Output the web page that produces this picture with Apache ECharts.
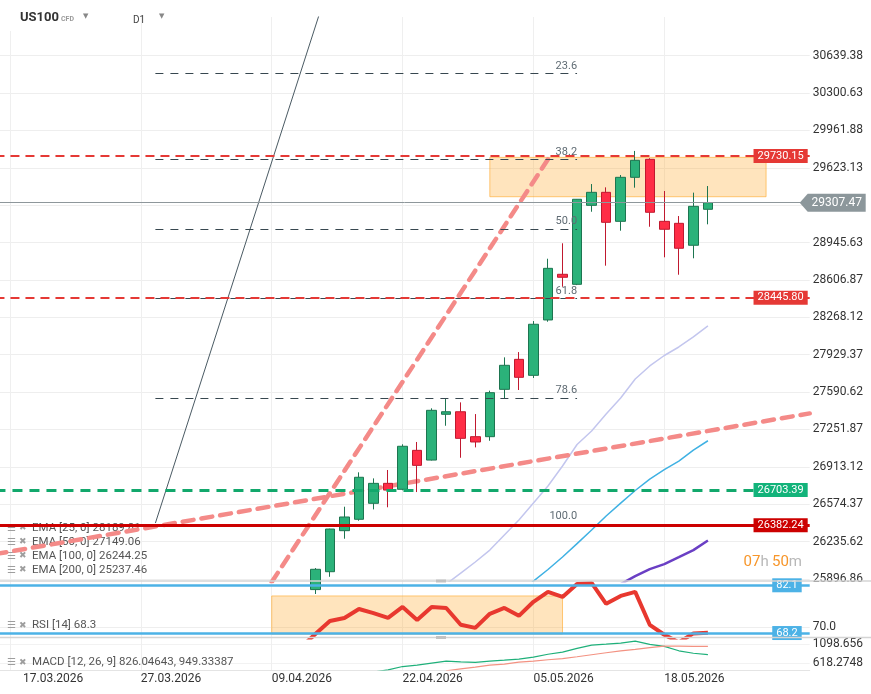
<!DOCTYPE html>
<html><head><meta charset="utf-8">
<script src="https://cdn.jsdelivr.net/npm/echarts@6/dist/echarts.min.js"></script>
<style>html,body{margin:0;padding:0;background:#fff}#c{width:871px;height:694px}</style>
</head><body><div id="c"></div><script>
// ---------- DATA ----------
const dates = ['16.03.2026','17.03.2026','18.03.2026','19.03.2026','20.03.2026','22.03.2026','23.03.2026','24.03.2026','25.03.2026','26.03.2026',
 '27.03.2026','30.03.2026','31.03.2026','01.04.2026','02.04.2026','03.04.2026','06.04.2026','07.04.2026','08.04.2026','09.04.2026',
 '10.04.2026','13.04.2026','14.04.2026','15.04.2026','16.04.2026','17.04.2026','20.04.2026','21.04.2026','22.04.2026','23.04.2026',
 '24.04.2026','27.04.2026','28.04.2026','29.04.2026','30.04.2026','01.05.2026','04.05.2026','05.05.2026','06.05.2026','07.05.2026',
 '08.05.2026','11.05.2026','12.05.2026','13.05.2026','14.05.2026','15.05.2026','18.05.2026','19.05.2026','20.05.2026','21.05.2026',
 '22.05.2026','25.05.2026','26.05.2026','27.05.2026','28.05.2026','29.05.2026','01.06.2026'];
const xLabelDates = ['17.03.2026','27.03.2026','09.04.2026','22.04.2026','05.05.2026','18.05.2026'];
const priceTicks = ['25896.86','26235.62','26574.37','26913.12','27251.87','27590.62','27929.37','28268.12','28606.87','28945.63','29284.38','29623.13','29961.88','30300.63','30639.38'];
const rsiTicks = ['70.0'];
const macdTicks = ['618.2748','1098.656'];
const currentPrice = 29307.47;

const candleStart = '14.04.2026';
const candles = [ // open, close, low, high
 [25800,25984,25760,25995],[25962,26349,25916,26352],[26334,26458,26261,26551],[26437,26818,26424,26863],
 [26582,26763,26527,26808],[26763,26702,26546,26884],[26709,27099,26700,27117],[27062,26926,26684,27138],
 [26974,27425,26970,27443],[27389,27412,27285,27527],[27412,27171,26995,27497],[27186,27138,27089,27391],
 [27186,27585,27149,27603],[27615,27833,27534,27905],[27887,27724,27609,27953],[27742,28205,27718,28234],
 [28244,28712,28228,28799],[28658,28631,28545,28939],[28567,29338,28560,29340],[29283,29401,29225,29476],
 [29401,29129,28736,29446],[29138,29537,29053,29558],[29537,29691,29443,29776],[29700,29220,29089,29710],
 [29138,29066,28812,29413],[29120,28894,28654,29186],[28921,29274,28803,29398],[29247,29307.47,29111,29458]];

const ema25Start = '27.04.2026';
const ema25 = [25850,25950,26050,26158,26294,26430,26585,26739,26920,27115,27237,27391,27537,27709,27827,27922,27999,28090,28189.81];
const ema50Start = '04.05.2026';
const ema50 = [25760,25877,25982,26095,26217,26340,26467,26584,26698,26802,26888,26965,27065,27149.06];
const ema100Start = '13.05.2026';
const ema100 = [25850,25922,25986,26031,26094,26158,26244.25];
const emaNames = ['EMA [25, 0]','EMA [50, 0]','EMA [100, 0]','EMA [200, 0]'];
const emaLast = [28189.81, 27149.06, 26244.25, 25237.46];

const rsiStart = '13.04.2026';
const rsi = [64.0,67.9,71.7,72.6,75.2,74.0,72.6,75.8,72.0,75.8,75.5,70.6,69.7,73.8,75.5,73.2,77.3,80.2,78.7,82.5,82.8,76.7,79.0,80.2,70.6,67.7,65.5,68.1,68.3];
const rsiLevels = [82.1, 68.2];

const macdStart = '20.04.2026';
const macd = [400,455,539,576,626,676,658,646,676,700,725,775,850,905,999,1079,1104,1131,1181,1099,1049,937,875,842];
const signalStart = '27.04.2026';
const signal = [430,481,526,576,601,651,676,710,738,787,837,887,937,974,1016,1056,1054,1049,1049];
const macdLegend = ['826.04643','949.33387'];

const levelValues = [29730.15, 28445.80, 26703.39, 26382.24];
const fibLevels = ['23.6','38.2','50.0','61.8','78.6','100.0'];
const fibPrices = [30480, 29699, 29068, 28437, 27538, 26394];
const fibRange = ['30.03.2026','08.05.2026'];
const fibExtLevels = ['161.8','100.0'];
const fibExtPrices = [28445.80, 26382.24];
const fibExtRange = ['08.05.2026','21.05.2026'];
const swingLine = [['30.03.2026',26403],['16.04.2026',31722]];
const trendShallow = [['16.03.2026',26122],['01.06.2026',27397]];
const trendSteep = [['09.04.2026',25868],['06.05.2026',29700]];
const zoneMain = [['30.04.2026',29718],['27.05.2026',29361]];
const zoneRsi = [['09.04.2026',79.0],['07.05.2026',67.9]];

// ---------- HELPERS ----------
const pairs = (start, vals) => { const s = dates.indexOf(start); return vals.map((v,k)=>[dates[s+k], v]); };
const labelIdx = xLabelDates.map(d => dates.indexOf(d));
const showX = (i) => labelIdx.indexOf(i) >= 0;
const FONT = 'Roboto';

const gridsLayout = [
  {left:-4.54, width:814.24, top:17, height:564, containLabel:false, outerBoundsMode:'none'},
  {left:-4.54, width:814.24, top:581, height:56.5, containLabel:false, outerBoundsMode:'none'},
  {left:-4.54, width:814.24, top:637.5, height:32.5, containLabel:false, outerBoundsMode:'none'}
];
const xAxes = [0,1,2].map(g => ({
  type:'category', gridIndex:g, data:dates, boundaryGap:false,
  axisLine:{show:g===2, lineStyle:{color:'#e4e4e4'}}, axisTick:{show:false},
  axisLabel:{show:g===2, interval:(i)=>showX(i), align:'left',
    formatter:(v)=> v===xLabelDates[0] ? '{f|'+v+'}' : v,
    rich:{f:{padding:[0,0,0,13], color:'#333', fontSize:12, fontFamily:FONT}},
    margin:3, color:'#333', fontSize:12, fontFamily:FONT},
  splitLine:{show:true, interval:(i)=>showX(i), lineStyle:{color:'#efefef', width:1}}
}));

const priceVals = priceTicks.map(Number);
const yAxes = [
  {type:'value', gridIndex:0, position:'right', min:25877.8, max:30990.2,
   axisLine:{show:false}, axisTick:{show:false, customValues:priceVals},
   axisLabel:{customValues:priceVals, margin:3, color:'#333', fontSize:12, fontFamily:FONT,
     formatter:(v)=>{ if (Math.abs(v-currentPrice)<60) return ''; const t = priceTicks.find(s=>Math.abs(parseFloat(s)-v)<0.01); return t||''; }},
   splitLine:{show:true, lineStyle:{color:'#eeeeee'}}},
  {type:'value', gridIndex:1, position:'right', min:66.9, max:83.35,
   axisLine:{show:false}, axisTick:{show:false, customValues:rsiTicks.map(Number)},
   axisLabel:{customValues:rsiTicks.map(Number), margin:3, color:'#333', fontSize:12, fontFamily:FONT,
     formatter:(v)=>rsiTicks.find(s=>Math.abs(parseFloat(s)-v)<0.01)||''},
   splitLine:{show:true, lineStyle:{color:'#eeeeee'}}},
  {type:'value', gridIndex:2, position:'right', min:451.5, max:1272.9,
   axisLine:{show:false}, axisTick:{show:false, customValues:macdTicks.map(Number)},
   axisLabel:{customValues:macdTicks.map(Number), margin:3, color:'#333', fontSize:12, fontFamily:FONT,
     formatter:(v)=>macdTicks.find(s=>Math.abs(parseFloat(s)-v)<0.01)||''},
   splitLine:{show:true, lineStyle:{color:'#f2f2f2'}}}
];

const boxLabel = (txt, bg, dist) => ({show:true, position:'insideEnd', distance:dist, formatter:txt, color:'#fff',
  backgroundColor:bg, padding:[2,4,1,4], fontSize:11, fontFamily:FONT});

const levelStyles = [
  {color:'#e53935', width:2, type:[9,6]},
  {color:'#e53935', width:2, type:[9,6]},
  {color:'#12a86c', width:3, type:[10,7]},
  {color:'#cc0000', width:3, type:'solid'}
];
const levelBg = ['#e53935','#e53935','#12b37a','#cc0000'];

const series = [
  {type:'line', xAxisIndex:0, yAxisIndex:0, data:pairs(ema25Start, ema25), symbol:'none', z:2,
   lineStyle:{color:'#c3c6ee', width:1.5}},
  {type:'line', xAxisIndex:0, yAxisIndex:0, data:pairs(ema50Start, ema50), symbol:'none', z:2,
   lineStyle:{color:'#3fb1e3', width:1.5}},
  {type:'line', xAxisIndex:0, yAxisIndex:0, data:pairs(ema100Start, ema100), symbol:'none', z:2,
   lineStyle:{color:'#6a3fc4', width:2.5}},
  {type:'line', xAxisIndex:0, yAxisIndex:0, data:swingLine, symbol:'none', z:2,
   lineStyle:{color:'#4a5a63', width:1}},
  {type:'line', xAxisIndex:0, yAxisIndex:0, data:trendShallow, symbol:'none', z:2,
   lineStyle:{color:'#f48a88', width:4.5, type:[11,8], cap:'round'}},
  {type:'line', xAxisIndex:0, yAxisIndex:0, data:trendSteep, symbol:'none', z:2,
   lineStyle:{color:'#f48a88', width:4.5, type:[11,8], cap:'round'}},
  {type:'line', xAxisIndex:0, yAxisIndex:0, data:[], z:2, silent:true,
   markLine:{symbol:['none','none'], animation:false, silent:true,
     lineStyle:{color:'#37474f', width:1, type:[8,7]},
     label:{show:true, position:'insideEndTop', distance:[0,2], color:'#5f6b73', fontSize:11, fontFamily:FONT},
     data: fibLevels.map((lv,i)=>[{coord:[fibRange[0], fibPrices[i]], label:{formatter:lv}}, {coord:[fibRange[1], fibPrices[i]]}])
       .concat(fibExtLevels.map((lv,i)=>[{coord:[fibExtRange[0], fibExtPrices[i]], lineStyle:{opacity:0}, label:{formatter:lv}}, {coord:[fibExtRange[1], fibExtPrices[i]]}]))
       .concat([{yAxis:currentPrice, lineStyle:{color:'#8e979b', width:1, type:'solid'}, label:{show:false}}])
   }},
  {type:'candlestick', xAxisIndex:0, yAxisIndex:0, z:3, barWidth:10,
   data: pairs(candleStart, candles).map(p=>[p[0]].concat(p[1])),
   encode:{x:0, y:[1,2,3,4]},
   itemStyle:{color:'#2bb27a', color0:'#ff2d46', borderColor:'#1d7550', borderColor0:'#c0192f', borderWidth:1}},
  {type:'line', xAxisIndex:0, yAxisIndex:0, data:[], z:4, silent:true,
   markArea:{silent:true, animation:false,
     itemStyle:{color:'rgba(255,167,38,0.3)', borderColor:'rgba(255,167,38,0.6)', borderWidth:1},
     data:[[{coord:zoneMain[0]},{coord:zoneMain[1]}]]}},
  {type:'line', xAxisIndex:0, yAxisIndex:0, data:[], z:5, silent:true,
   markLine:{symbol:['none','none'], animation:false, silent:true,
     data: levelValues.map((v,i)=>({yAxis:v, lineStyle:levelStyles[i], label:boxLabel(v.toFixed(2), levelBg[i], 2)}))},
   markPoint:{symbol:'path://M0,9L8,0L66,0L66,18L8,18Z', symbolSize:[66,18], symbolKeepAspect:false,
     symbolOffset:[23,0], silent:true, animation:false, itemStyle:{color:'#8c979b'},
     label:{show:true, position:'inside', offset:[4,0], color:'#fff', fontSize:12, fontFamily:FONT, formatter:currentPrice.toFixed(2)},
     data:[{coord:[dates[dates.length-1], currentPrice]}]}},
  {type:'line', xAxisIndex:1, yAxisIndex:1, data:pairs(rsiStart, rsi), symbol:'none', z:2,
   lineStyle:{color:'#e8382f', width:4}},
  {type:'line', xAxisIndex:1, yAxisIndex:1, data:[], z:3, silent:true,
   markLine:{symbol:['none','none'], animation:false, silent:true,
     data: rsiLevels.map(v=>({yAxis:v, lineStyle:{color:'#4cb2e6', width:2.5, type:'solid'}, label:boxLabel(String(v), '#4cb2e6', 8)}))}},
  {type:'line', xAxisIndex:1, yAxisIndex:1, data:[], z:4, silent:true,
   markArea:{silent:true, animation:false,
     itemStyle:{color:'rgba(255,167,38,0.3)', borderColor:'rgba(255,167,38,0.6)', borderWidth:1},
     data:[[{coord:zoneRsi[0]},{coord:zoneRsi[1]}]]}},
  {type:'line', xAxisIndex:2, yAxisIndex:2, data:pairs(macdStart, macd), symbol:'none', z:2,
   lineStyle:{color:'#1fb07a', width:1.2}},
  {type:'line', xAxisIndex:2, yAxisIndex:2, data:pairs(signalStart, signal), symbol:'none', z:2,
   lineStyle:{color:'#f39282', width:1.2}}
];

const captions = [];
const addCaption = (y, text) => {
  captions.push({type:'text', x:7, y:y, z:1, style:{text:'\u2630', font:'10px "DejaVu Sans"', fill:'#9e9e9e', verticalAlign:'middle'}});
  captions.push({type:'text', x:19, y:y, z:1, style:{text:'\u2716', font:'9px "DejaVu Sans"', fill:'#9e9e9e', verticalAlign:'middle'}});
  captions.push({type:'text', x:32, y:y, z:1, style:{text:text, font:'11.5px Roboto', fill:'#555', verticalAlign:'middle'}});
};
emaNames.forEach((n,i)=>addCaption(528 + i*14, n + ' ' + emaLast[i].toFixed(2)));
addCaption(625.5, 'RSI [14] ' + rsi[rsi.length-1].toFixed(1));
addCaption(662.5, 'MACD [12, 26, 9] ' + macdLegend.join(', '));

const graphic = captions.concat([
  {type:'line', shape:{x1:0,y1:581,x2:871,y2:581}, style:{stroke:'#d4d4d4', lineWidth:1.5}, z:6},
  {type:'line', shape:{x1:0,y1:637.5,x2:871,y2:637.5}, style:{stroke:'#d4d4d4', lineWidth:1.5}, z:6},
  {type:'rect', shape:{x:436,y:579.5,width:10,height:3}, style:{fill:'#c2c2c2'}, z:7},
  {type:'rect', shape:{x:436,y:636,width:10,height:3}, style:{fill:'#c2c2c2'}, z:7},
  {type:'rect', shape:{x:0,y:0,width:118,height:31}, style:{fill:'#fff'}, z:50},
  {type:'text', x:20, y:18, z:51, style:{text:'US100', font:'bold 13px Roboto', fill:'#333', verticalAlign:'middle'}},
  {type:'text', x:61, y:19, z:51, style:{text:'CFD', font:'bold 7px Roboto', fill:'#9a9a9a', verticalAlign:'middle'}},
  {type:'text', x:83, y:16.5, z:51, style:{text:'\u25BC', font:'7px "DejaVu Sans"', fill:'#888', verticalAlign:'middle'}},
  {type:'text', x:133, y:20, z:51, style:{text:'D1', font:'10px Roboto', fill:'#444', verticalAlign:'middle'}},
  {type:'text', x:159, y:16.5, z:51, style:{text:'\u25BC', font:'7px "DejaVu Sans"', fill:'#888', verticalAlign:'middle'}},
  {type:'text', x:802, y:562.5, z:51, style:{text:'{o|07}{g|h} {o|50}{g|m}', align:'right', verticalAlign:'middle',
    rich:{o:{fill:'#f7962a', font:'15px Roboto'}, g:{fill:'#b8b8b8', font:'15px Roboto'}}}}
]);

const chart = echarts.init(document.getElementById('c'), null, {renderer:'canvas'});
chart.setOption({
  animation:false,
  backgroundColor:'#ffffff',
  textStyle:{fontFamily:FONT},
  grid: gridsLayout,
  xAxis: xAxes,
  yAxis: yAxes,
  series: series,
  graphic: graphic
});
</script></body></html>
